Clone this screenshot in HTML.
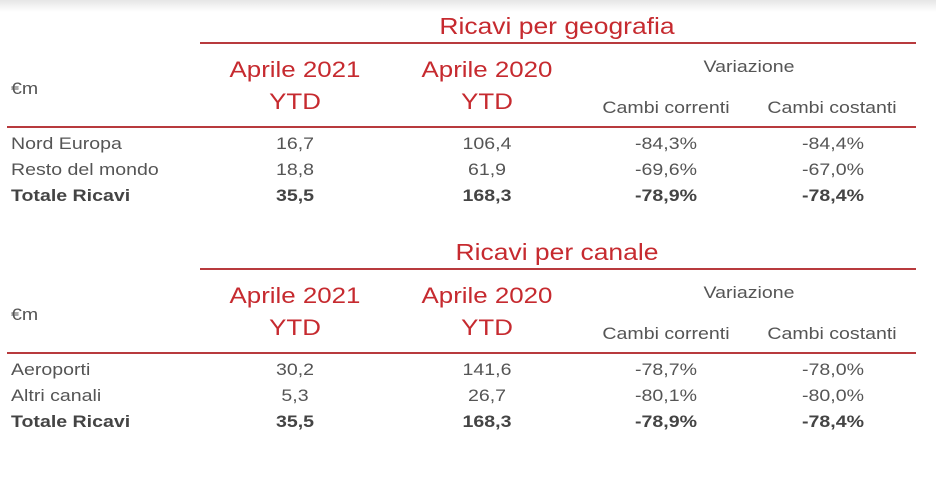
<!DOCTYPE html>
<html><head><meta charset="utf-8"><style>
body{margin:0;width:936px;height:481px;background:#fff;position:relative;overflow:hidden;font-family:"Liberation Sans",sans-serif;}
.t{position:absolute;white-space:nowrap;line-height:1;transform:scaleX(1.15);transform-origin:0 0;}
.c{transform:translateX(-50%) scaleX(1.15);transform-origin:50% 0;}
.red{color:#c62a2f;font-size:22.5px;}
.ti{color:#c62a2f;font-size:23px;}
.g{color:#555;font-size:17px;}
.b{font-weight:bold;color:#444;}
.ln{position:absolute;height:2px;background:#b83a3d;}
.top{position:absolute;left:0;top:0;width:936px;height:12px;background:linear-gradient(#e6e6e6,#fff);}
</style></head><body>
<div class="top"></div>
<div id="s1"></div>
<script>
function sec(off,title,data){
 let h='';
 const a=(x,y,txt,cls)=>{h+='<div class="t '+cls+'" style="left:'+x+'px;top:'+(y+off)+'px">'+txt+'</div>';};
 a(557,15,title,'c ti');
 h+='<div class="ln" style="left:200px;top:'+(42+off)+'px;width:716px"></div>';
 a(295,59,'Aprile 2021','c red');
 a(295,91,'YTD','c red');
 a(487,59,'Aprile 2020','c red');
 a(487,91,'YTD','c red');
 a(11,80,'€m','g');
 a(749,58,'Variazione','c g');
 a(666,99,'Cambi correnti','c g');
 a(832,99,'Cambi costanti','c g');
 h+='<div class="ln" style="left:7px;top:'+(126+off)+'px;width:909px"></div>';
 data.forEach((r,i)=>{
  const y=135+i*26, cls=i==2?' b':'';
  a(11,y,r[0],'g'+cls);
  a(295,y,r[1],'g c'+cls);
  a(487,y,r[2],'g c'+cls);
  a(666,y,r[3],'g c'+cls);
  a(833,y,r[4],'g c'+cls);
 });
 return h;
}
let html=sec(0,'Ricavi per geografia',[['Nord Europa','16,7','106,4','-84,3%','-84,4%'],['Resto del mondo','18,8','61,9','-69,6%','-67,0%'],['Totale Ricavi','35,5','168,3','-78,9%','-78,4%']])
+sec(226,'Ricavi per canale',[['Aeroporti','30,2','141,6','-78,7%','-78,0%'],['Altri canali','5,3','26,7','-80,1%','-80,0%'],['Totale Ricavi','35,5','168,3','-78,9%','-78,4%']]);
document.getElementById('s1').innerHTML=html;
</script>
</body></html>
